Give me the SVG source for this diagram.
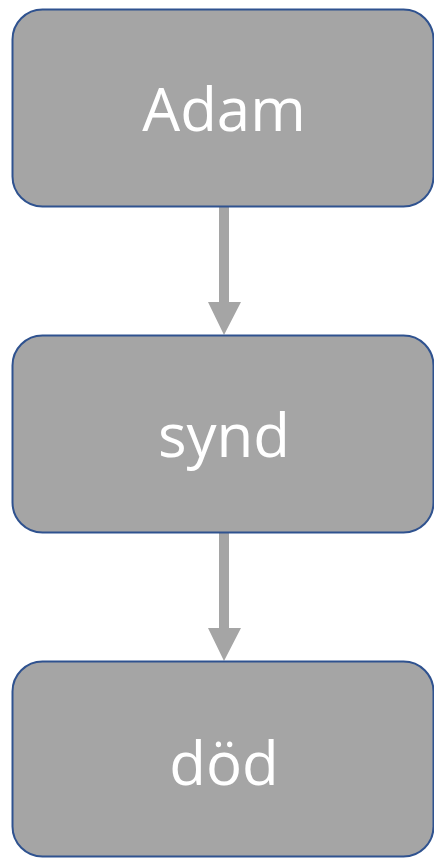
<svg xmlns="http://www.w3.org/2000/svg" width="434" height="858" viewBox="0 0 434 858">
<style>
.box{fill:#A5A5A5;stroke:#2F528F;stroke-width:2}
.lbl{font-family:"Open Sans","Noto Sans",sans-serif;font-size:60px;fill:#FFFFFF;text-anchor:middle}
.arr{fill:#A5A5A5}
</style>
<g id="connectors">
<polygon class="arr" points="219,207 229,207 229,302 241,302 224,335 208,302 219,302"/>
<polygon class="arr" points="219,532 229,532 229,628 241,628 224,661 208,628 219,628"/>
</g>
<g id="node-adam">
<rect class="box" x="12.5" y="9.5" width="421" height="197" rx="30" ry="30"/>
<text class="lbl" x="224" y="131">Adam</text>
</g>
<g id="node-synd">
<rect class="box" x="12.5" y="335.5" width="421" height="197" rx="30" ry="30"/>
<text class="lbl" x="224" y="457">synd</text>
</g>
<g id="node-dod">
<rect class="box" x="12.5" y="661.5" width="421" height="195" rx="30" ry="30"/>
<text class="lbl" x="224" y="785">död</text>
</g>
</svg>
